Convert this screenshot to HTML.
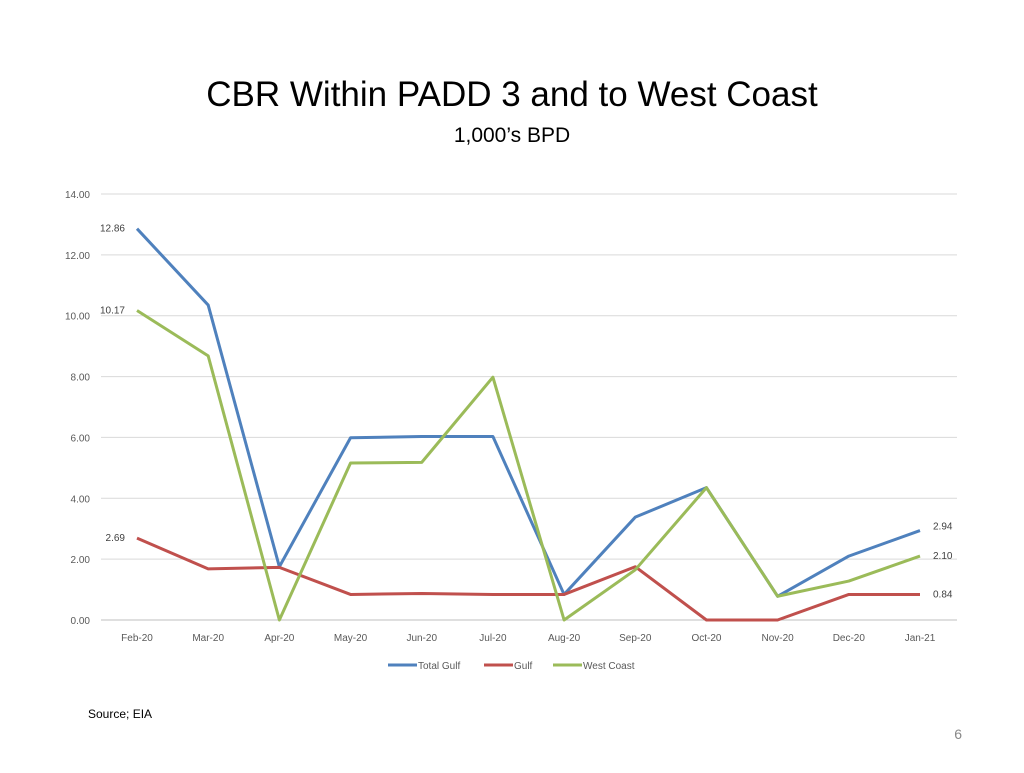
<!DOCTYPE html>
<html><head><meta charset="utf-8"><style>
body{margin:0;background:#fff;font-family:"Liberation Sans",sans-serif;}
svg text{font-family:"Liberation Sans",sans-serif;}
</style></head><body>
<svg id="chart" width="1024" height="768" xmlns="http://www.w3.org/2000/svg">
<text x="512" y="106" text-anchor="middle" font-size="35" fill="#000">CBR Within PADD 3 and to West Coast</text>
<text x="512" y="142" text-anchor="middle" font-size="21" fill="#000">1,000’s BPD</text>
<g id="grid"></g>
<g id="yticks"></g>
<g id="xticks"></g>
<g id="series"></g>
<g id="labels"></g>
<g id="legend"></g>
<text x="88" y="718" font-size="12" fill="#000">Source; EIA</text>
<text x="962" y="739" text-anchor="end" font-size="14" fill="#888">6</text>
</svg>
<script>
const categories=["Feb-20","Mar-20","Apr-20","May-20","Jun-20","Jul-20","Aug-20","Sep-20","Oct-20","Nov-20","Dec-20","Jan-21"];
const totalGulf=[12.86,10.35,1.75,5.99,6.03,6.03,0.84,3.38,4.35,0.78,2.10,2.94];
const gulf=[2.69,1.68,1.73,0.84,0.87,0.84,0.84,1.75,0,0,0.84,0.84];
const westCoast=[10.17,8.68,0,5.16,5.18,7.98,0,1.65,4.35,0.78,1.28,2.10];
const yTicks=[0,2,4,6,8,10,12,14];
const seriesNames=["Total Gulf","Gulf","West Coast"];
const NS="http://www.w3.org/2000/svg";
const x0=137,x1=920,yBase=620,yTop=194,yMax=14;
const xs=i=>x0+(x1-x0)*i/(categories.length-1);
const ys=v=>yBase-(yBase-yTop)*v/yMax;
function mk(tag,attrs,parent,txt){const e=document.createElementNS(NS,tag);for(const k in attrs)e.setAttribute(k,attrs[k]);if(txt!==undefined)e.textContent=txt;parent.appendChild(e);return e;}
const grid=document.getElementById('grid'),yt=document.getElementById('yticks'),xt=document.getElementById('xticks');
yTicks.forEach(t=>{
 const l=mk('line',{x1:101,x2:957,y1:ys(t),y2:ys(t),stroke:t===0?'#bfbfbf':'#d9d9d9','stroke-width':1},grid);
 
 
 const tx=mk('text',{x:90,y:ys(t)+4,'text-anchor':'end','font-size':10,fill:'#595959'},yt,t.toFixed(2));
 
 
});
categories.forEach((c,i)=>{
 const tx=mk('text',{x:xs(i),y:641,'text-anchor':'middle','font-size':10,fill:'#595959'},xt,c);
 
 
});
const colors=["#4f81bd","#c0504d","#9bbb59"];
const data=[totalGulf,gulf,westCoast];
const sg=document.getElementById('series');
data.forEach((arr,k)=>{
 const p=mk('polyline',{points:arr.map((v,i)=>xs(i)+','+ys(v)).join(' '),fill:'none',stroke:colors[k],'stroke-width':3,'stroke-linejoin':'round'},sg);
 
 
});
const lg=document.getElementById('labels');
function lab(txt,x,y,anchor){const t=mk('text',{x:x,y:y,'text-anchor':anchor,'font-size':10,fill:'#404040'},lg,txt);
 
 }
const n=categories.length-1;
lab(totalGulf[0].toFixed(2),125,ys(totalGulf[0])+3,'end');
lab(westCoast[0].toFixed(2),125,ys(westCoast[0])+3,'end');
lab(gulf[0].toFixed(2),125,ys(gulf[0])+3,'end');
lab(totalGulf[n].toFixed(2),933,ys(totalGulf[n])-1,'start');
lab(westCoast[n].toFixed(2),933,ys(westCoast[n])+3,'start');
lab(gulf[n].toFixed(2),933,ys(gulf[n])+3,'start');
const leg=document.getElementById('legend');
const lx=[388,484,553];
seriesNames.forEach((s,k)=>{
 const l=mk('line',{x1:lx[k],x2:lx[k]+29,y1:665,y2:665,stroke:colors[k],'stroke-width':3},leg);
 
 
 const t=mk('text',{x:lx[k]+30,y:669,'font-size':10,fill:'#595959'},leg,s);
 
 
});
</script>
</body></html>
